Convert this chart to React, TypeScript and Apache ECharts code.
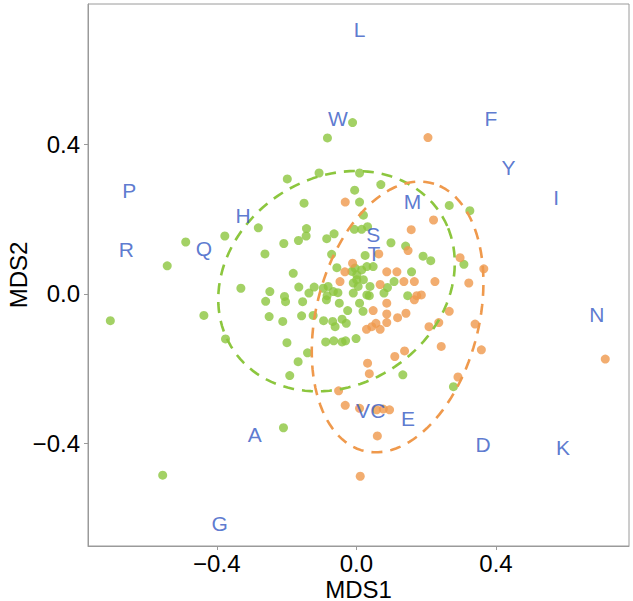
import React, { useEffect, useRef } from "react";
import * as echarts from "echarts";

// Group 1 (green) site scores [MDS1, MDS2]
const greenPoints: number[][] = [
  [-0.011, 0.459], [-0.083, 0.418], [-0.198, 0.308], [-0.107, 0.324], [0.009, 0.324],
  [0.070, 0.293], [-0.005, 0.278], [-0.150, 0.243], [0.009, 0.246], [0.020, 0.211],
  [0.266, 0.237], [0.325, 0.223], [-0.281, 0.177], [-0.143, 0.175], [-0.144, 0.155],
  [-0.166, 0.143], [-0.208, 0.135], [-0.377, 0.155], [-0.489, 0.139], [-0.542, 0.075],
  [-0.262, 0.107], [-0.085, 0.148], [-0.064, 0.161], [-0.006, 0.173], [0.015, 0.173],
  [0.032, 0.180], [0.099, 0.137], [0.141, 0.128], [0.191, 0.101], [0.213, 0.089],
  [0.308, 0.079], [0.025, 0.103], [-0.071, 0.106], [-0.056, 0.070], [-0.181, 0.055],
  [0.158, 0.059], [0.108, 0.033], [0.089, 0.017], [-0.331, 0.015], [-0.248, 0.006],
  [-0.206, -0.007], [-0.165, 0.018], [-0.136, 0.002], [-0.121, 0.018], [-0.081, 0.020],
  [-0.053, 0.003], [0.147, -0.005], [0.079, 0.002], [-0.705, -0.072], [-0.437, -0.058],
  [-0.375, -0.121], [-0.203, -0.021], [-0.260, -0.020], [-0.250, -0.061], [-0.211, -0.074],
  [-0.157, -0.059], [-0.154, -0.021], [-0.124, -0.058], [-0.094, -0.072], [-0.068, -0.074],
  [-0.061, -0.088], [-0.041, -0.068], [-0.029, -0.079], [-0.025, -0.045], [-0.049, -0.025],
  [-0.086, -0.016], [0.009, -0.025], [0.019, -0.047], [0.037, -0.005], [-0.199, -0.131],
  [-0.167, -0.182], [-0.140, -0.158], [-0.191, -0.219], [-0.088, -0.129], [-0.065, -0.126],
  [-0.041, -0.129], [-0.031, -0.126], [-0.001, -0.120], [0.133, -0.217], [0.278, -0.249],
  [-0.209, -0.359], [-0.555, -0.486], [-0.004, 0.069], [0.015, 0.064], [0.030, 0.073],
  [0.048, 0.073], [0.001, 0.051], [0.020, 0.038], [-0.009, 0.029], [0.005, 0.020],
  [0.039, 0.020], [0.030, -0.003], [-0.009, 0.002], [-0.095, 0.015], [-0.066, 0.006],
  [-0.084, -0.005], [-0.013, 0.060], [0.001, 0.038],
];

// Group 2 (orange) site scores [MDS1, MDS2]
const orangePoints: number[][] = [
  [0.205, 0.419], [-0.032, 0.246], [0.221, 0.198], [0.157, 0.172], [0.148, 0.116],
  [0.297, 0.097], [0.365, 0.067], [0.064, 0.107], [-0.011, 0.082], [-0.033, 0.059],
  [0.087, 0.059], [0.116, 0.059], [0.225, 0.033], [0.322, 0.029], [0.166, 0.033],
  [0.136, 0.033], [0.068, 0.025], [0.173, -0.005], [0.186, -0.003], [-0.047, 0.033],
  [0.048, -0.045], [0.087, -0.025], [0.087, -0.054], [0.118, -0.064], [0.142, -0.052],
  [0.087, -0.077], [0.056, -0.079], [0.044, -0.088], [0.029, -0.095], [0.068, -0.095],
  [0.166, -0.016], [0.266, -0.047], [0.236, -0.077], [0.208, -0.088], [0.340, -0.081],
  [0.243, -0.141], [0.358, -0.150], [0.138, -0.153], [0.110, -0.168], [0.032, -0.186],
  [0.037, -0.214], [0.291, -0.223], [-0.051, -0.260], [-0.032, -0.299], [0.009, -0.307],
  [0.058, -0.311], [0.077, -0.309], [0.095, -0.311], [0.713, -0.175], [0.060, -0.381],
  [0.011, -0.489],
];

// Species labels
const speciesNames = ["L", "W", "F", "Y", "P", "I", "H", "M", "S", "T", "Q", "R", "N", "VC", "E", "A", "D", "K", "G"];
const speciesX = [0.009, -0.053, 0.385, 0.436, -0.651, 0.572, -0.325, 0.161, 0.048, 0.050, -0.437, -0.659, 0.689, 0.041, 0.148, -0.291, 0.363, 0.592, -0.392];
const speciesY = [0.708, 0.471, 0.469, 0.339, 0.276, 0.257, 0.210, 0.247, 0.158, 0.107, 0.121, 0.118, -0.055, -0.314, -0.335, -0.376, -0.403, -0.412, -0.615];

// Ellipse parameters [centerX, centerY, semiMajor, semiMinor, angleDeg]
const greenEllipse = [-0.057, 0.034, 0.350, 0.282, 25];
const orangeEllipse = [0.118, -0.062, 0.372, 0.232, 73.7];

const xTicks = [-0.4, 0, 0.4];
const yTicks = [-0.4, 0, 0.4];

const GREEN = "#8cc63e";
const ORANGE = "#ef994c";
const BLUE = "#3358c4";
const FONT = "'Liberation Sans', Arial, sans-serif";

function ellipsePath(p: number[]): number[][] {
  const [cx, cy, a, b, deg] = p;
  const th = (deg * Math.PI) / 180;
  const out: number[][] = [];
  const n = 120;
  for (let i = 0; i <= n; i++) {
    const t = (2 * Math.PI * i) / n;
    const x = cx + a * Math.cos(th) * Math.cos(t) - b * Math.sin(th) * Math.sin(t);
    const y = cy + a * Math.sin(th) * Math.cos(t) + b * Math.cos(th) * Math.sin(t);
    out.push([x, y]);
  }
  return out;
}

const fmt = (v: number) => {
  const s = Math.abs(v).toFixed(1);
  return v < -1e-9 ? "\u2212" + s : s;
};

export default function App() {
  const ref = useRef<HTMLDivElement>(null);
  useEffect(() => {
    if (!ref.current) return;
    const chart = echarts.init(ref.current, undefined, { renderer: "svg" });
    const axisCommon = {
      type: "value" as const,
      splitLine: { show: false },
      axisLine: { show: true, onZero: false, lineStyle: { color: "#9a9a9a", width: 1 } },
      axisTick: { show: true, length: 4, lineStyle: { color: "#9a9a9a" } },
      nameLocation: "middle" as const,
      nameMoveOverlap: false,
      nameTextStyle: { color: "#000", fontSize: 24, fontFamily: FONT },
    };
    chart.setOption({
      animation: false,
      backgroundColor: "#fff",
      grid: {
        left: 88, right: 4, top: 4, bottom: 55,
        outerBoundsMode: "none",
        containLabel: false,
        show: true, borderColor: "#9a9a9a", borderWidth: 1, backgroundColor: "#fff",
      },
      xAxis: {
        ...axisCommon,
        min: -0.769, max: 0.781,
        name: "MDS1", nameGap: 31,
        axisTick: { ...axisCommon.axisTick, customValues: xTicks },
        axisLabel: { customValues: xTicks, formatter: fmt, color: "#000", fontSize: 24, fontFamily: FONT, margin: 5 },
      },
      yAxis: {
        ...axisCommon,
        min: -0.676, max: 0.777,
        name: "MDS2", nameGap: 58,
        axisTick: { ...axisCommon.axisTick, customValues: yTicks },
        axisLabel: { customValues: yTicks, formatter: fmt, color: "#000", fontSize: 24, fontFamily: FONT, margin: 8 },
      },
      series: [
        { type: "scatter", data: greenPoints, symbolSize: 9, itemStyle: { color: GREEN }, z: 2 },
        { type: "scatter", data: orangePoints, symbolSize: 9, itemStyle: { color: ORANGE }, z: 3 },
        {
          type: "line", data: ellipsePath(greenEllipse), showSymbol: false, symbol: "none", z: 4,
          lineStyle: { color: GREEN, width: 2.6, type: [11, 8] },
        },
        {
          type: "line", data: ellipsePath(orangeEllipse), showSymbol: false, symbol: "none", z: 4,
          lineStyle: { color: ORANGE, width: 2.6, type: [11, 8] },
        },
        {
          type: "scatter", z: 5, symbolSize: 0,
          data: speciesNames.map((n, i) => ({ name: n, value: [speciesX[i], speciesY[i]] })),
          itemStyle: { color: "transparent" },
          label: {
            show: true, position: "inside", formatter: (p: any) => p.name,
            color: BLUE, fontSize: 21, fontFamily: FONT,
          },
        },
      ],
    });
    return () => chart.dispose();
  }, []);
  return <div ref={ref} style={{ width: 633, height: 601, position: "absolute", left: 0, top: 0 }} />;
}
